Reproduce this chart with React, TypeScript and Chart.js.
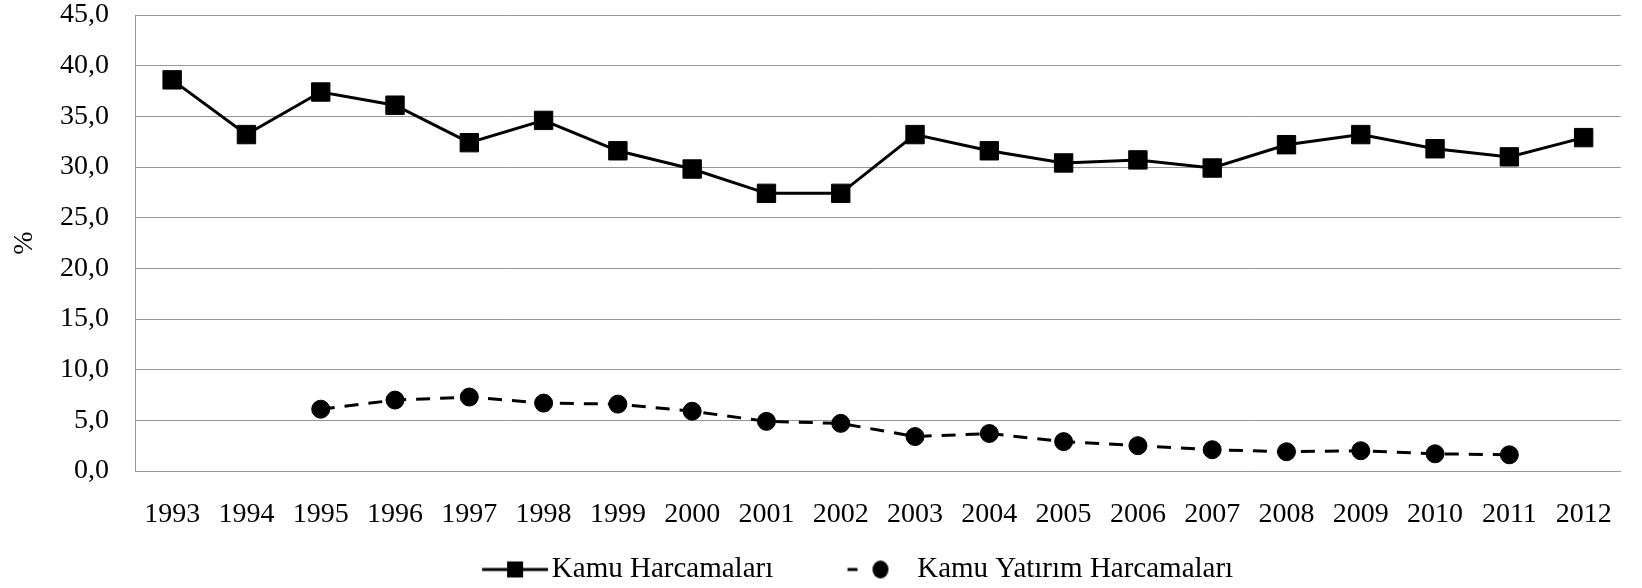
import React, { useEffect, useRef } from 'react';
import { Chart, registerables } from 'chart.js';

Chart.register(...registerables);

const years = ['1993', '1994', '1995', '1996', '1997', '1998', '1999', '2000', '2001', '2002', '2003', '2004', '2005', '2006', '2007', '2008', '2009', '2010', '2011', '2012'];
const kamuHarcamalari = [38.6, 33.2, 37.4, 36.1, 32.4, 34.6, 31.6, 29.8, 27.4, 27.4, 33.2, 31.6, 30.4, 30.7, 29.9, 32.2, 33.2, 31.8, 31.0, 32.9];
const kamuYatirimHarcamalari = [null, null, 6.1, 7.0, 7.3, 6.7, 6.6, 5.9, 4.9, 4.7, 3.4, 3.7, 2.9, 2.5, 2.1, 1.9, 2.0, 1.7, 1.6, null];
const seriesNames = ['Kamu Harcamaları', 'Kamu Yatırım Harcamaları'];
const yAxisTitle = '%';
const yMin = 0;
const yMax = 45;
const yStep = 5;

const FONT = "'Liberation Serif', 'Times New Roman', serif";
const GRID = '#969696';

// legend sample image: centred on the legend box, the visible sample sits on its right part
const SAMPLE_IMG_W = 150;
const SAMPLE_OFFSET = 84;

function makeSample(kind: 'rect' | 'circle'): HTMLCanvasElement {
  const c = document.createElement('canvas');
  c.width = SAMPLE_IMG_W;
  c.height = 24;
  const g = c.getContext('2d')!;
  g.fillStyle = '#000';
  g.strokeStyle = '#000';
  g.lineWidth = 3;
  const x0 = SAMPLE_OFFSET;
  if (kind === 'rect') {
    g.beginPath();
    g.moveTo(x0, 12);
    g.lineTo(x0 + 66, 12);
    g.stroke();
    g.fillRect(x0 + 33 - 8, 12 - 8, 16, 16);
  } else {
    g.beginPath();
    g.moveTo(x0, 12);
    g.lineTo(x0 + 10, 12);
    g.stroke();
    g.beginPath();
    g.ellipse(x0 + 33, 12, 8, 9, 0, 0, Math.PI * 2);
    g.fill();
  }
  return c;
}

export default function App() {
  const canvasRef = useRef<HTMLCanvasElement | null>(null);

  useEffect(() => {
    if (!canvasRef.current) return;
    const sample1 = makeSample('rect');
    const sample2 = makeSample('circle');
    const chart = new Chart(canvasRef.current, {
      type: 'line',
      data: {
        labels: years,
        datasets: [
          {
            label: seriesNames[0],
            data: kamuHarcamalari,
            borderColor: '#000',
            backgroundColor: '#000',
            borderWidth: 3,
            pointStyle: 'rect',
            pointRadius: 13,
            pointHoverRadius: 13,
            pointBorderWidth: 1,
            pointBackgroundColor: '#000',
            pointBorderColor: '#000',
            tension: 0,
          },
          {
            label: seriesNames[1],
            data: kamuYatirimHarcamalari,
            borderColor: '#000',
            backgroundColor: '#000',
            borderWidth: 3,
            borderDash: [14, 10],
            pointStyle: 'circle',
            pointRadius: 9,
            pointHoverRadius: 9,
            pointBorderWidth: 1,
            pointBackgroundColor: '#000',
            pointBorderColor: '#000',
            tension: 0,
          },
        ],
      },
      options: {
        responsive: false,
        animation: false,
        layout: { padding: { top: 0, left: 0, right: 0, bottom: -6 } },
        plugins: {
          tooltip: { enabled: false },
          legend: {
            position: 'bottom',
            fullSize: true,
            labels: {
              usePointStyle: true,
              pointStyleWidth: 128.5,
              padding: 1,
              color: '#000',
              font: { family: FONT, size: 29 },
              generateLabels: () => [
                { text: seriesNames[0], pointStyle: sample1 as any, fillStyle: '#000', strokeStyle: '#000', lineWidth: 0, hidden: false, datasetIndex: 0, fontColor: '#000' } as any,
                { text: seriesNames[1], pointStyle: sample2 as any, fillStyle: '#000', strokeStyle: '#000', lineWidth: 0, hidden: false, datasetIndex: 1, fontColor: '#000' } as any,
              ],
            },
          },
        },
        scales: {
          x: {
            offset: true,
            grid: { display: false, drawTicks: false },
            border: { display: true, color: GRID, width: 1 },
            ticks: {
              color: '#000',
              font: { family: FONT, size: 28, lineHeight: 1 },
              padding: 30,
              maxRotation: 0,
              autoSkip: false,
            },
            afterFit: (s: any) => {
              s.height = 83;
            },
          },
          y: {
            min: yMin,
            max: yMax,
            grid: { color: GRID, drawTicks: false, lineWidth: 1 },
            border: { display: true, color: GRID, width: 1 },
            ticks: {
              stepSize: yStep,
              color: '#000',
              padding: 26,
              font: { family: FONT, size: 28, lineHeight: 30 / 28 },
              callback: (v: any) => Number(v).toFixed(1).replace('.', ','),
            },
            title: {
              display: true,
              text: yAxisTitle,
              color: '#000',
              font: { family: FONT, size: 28 },
              padding: { top: 8, bottom: 0 },
            },
            afterFit: (s: any) => {
              s.width = 135;
              s.paddingTop = 15;
              s.paddingBottom = 15;
            },
          },
        },
      },
    });
    return () => chart.destroy();
  }, []);

  return (
    <div style={{ position: 'absolute', left: 0, top: 0, width: 1642, height: 588, background: '#fff' }}>
      <canvas ref={canvasRef} width={1642} height={588} style={{ display: 'block' }} />
    </div>
  );
}
